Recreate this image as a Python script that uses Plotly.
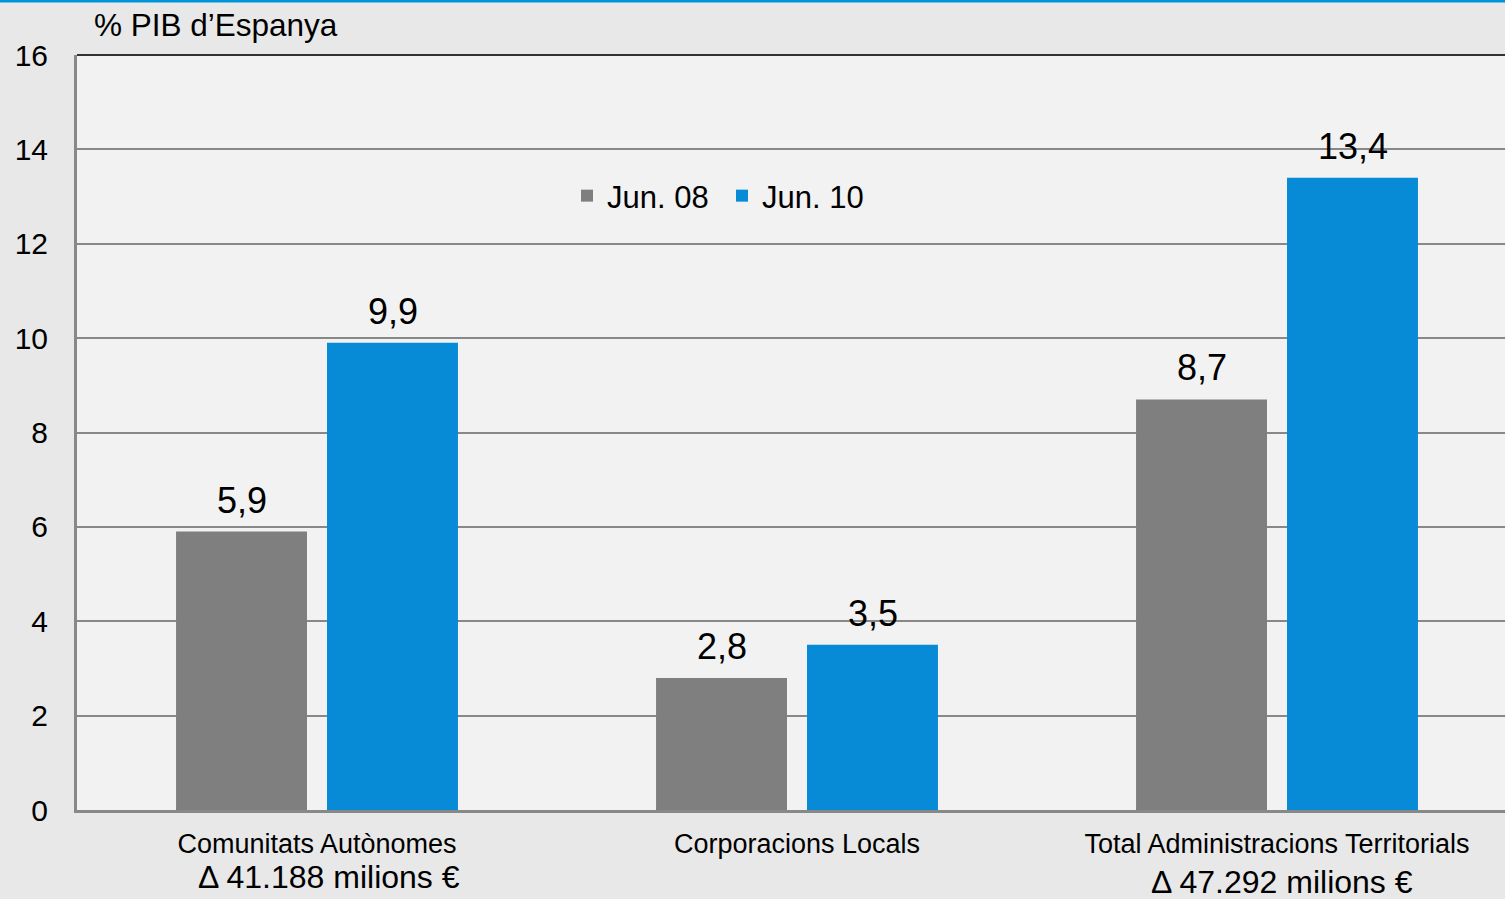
import plotly.graph_objects as go

# Data
categories = ["Comunitats Autònomes", "Corporacions Locals", "Total Administracions Territorials"]
jun08 = [5.9, 2.8, 8.7]
jun10 = [9.9, 3.5, 13.4]
deltas = ["\u0394 41.188 milions \u20ac", None, "\u0394 47.292 milions \u20ac"]

FONT = "Liberation Sans, Arial, sans-serif"
GREY = "#7f7f7f"
BLUE = "#078bd6"
PW, PH = 1428, 755  # plot area size in px

fig = go.Figure()
fig.add_trace(go.Bar(x=categories, y=jun08, name="Jun. 08", marker=dict(color=GREY, line_width=0)))
fig.add_trace(go.Bar(x=categories, y=jun10, name="Jun. 10", marker=dict(color=BLUE, line_width=0)))

# value labels above bars
for i, cat in enumerate(categories):
    for vals, shift in ((jun08, -75.5), (jun10, 75.5)):
        fig.add_annotation(x=cat, y=vals[i], xshift=shift, yshift=9, yanchor="bottom",
                           text=f"{vals[i]:.1f}".replace(".", ","), showarrow=False,
                           font=dict(size=36, color="black", family=FONT))

# delta notes under the category labels
for i, cat in enumerate(categories):
    if deltas[i]:
        fig.add_annotation(x=cat, y=0, yref="y", xshift=12 if i == 0 else 5,
                           yshift=-67 if i == 0 else -72, yanchor="middle",
                           text=deltas[i], showarrow=False,
                           font=dict(size=32, color="black", family=FONT))

# axis title
fig.add_annotation(xref="paper", x=(92 - 77) / PW, xanchor="left", yref="paper",
                   y=1 + 30 / PH, yanchor="middle", text="% PIB d\u2019Espanya",
                   showarrow=False, font=dict(size=31.5, color="black", family=FONT))

# top blue rule and dark top frame of plot
fig.add_shape(type="line", xref="paper", yref="paper", x0=-77 / PW, x1=1, y0=1 + 54 / PH, y1=1 + 54 / PH,
              line=dict(color="#0095d9", width=3))
fig.add_shape(type="line", xref="paper", yref="paper", x0=0, x1=1, y0=1, y1=1,
              line=dict(color="#333333", width=2))

fig.update_layout(
    width=1505, height=899,
    margin=dict(l=77, r=0, t=55, b=89),
    paper_bgcolor="#e8e8e8", plot_bgcolor="#f2f2f2",
    barmode="group", bargap=0.371, bargroupgap=0.1325,
    font=dict(family=FONT, color="black"),
    showlegend=True,
    legend=dict(orientation="h", xref="paper", yref="paper",
                x=(567 - 77) / PW, y=1 - (169 - 55) / PH, xanchor="left", yanchor="top",
                entrywidth=110, entrywidthmode="pixels",
                bgcolor="rgba(0,0,0,0)", font=dict(size=31, family=FONT)),
    xaxis=dict(range=[-0.5, 2.475], showline=True, linecolor="#888888", linewidth=3,
               ticks="", ticklabelstandoff=8, tickfont=dict(size=27, family=FONT)),
    yaxis=dict(range=[0, 16], dtick=2, showgrid=True, gridcolor="#888888", gridwidth=2,
               zeroline=False, showline=True, linecolor="#888888", linewidth=3,
               ticks="", ticklabelstandoff=20, tickfont=dict(size=30, family=FONT)),
)

fig.write_html("out.html", config={"displayModeBar": False},
               post_script="document.body.style.margin='0';")
